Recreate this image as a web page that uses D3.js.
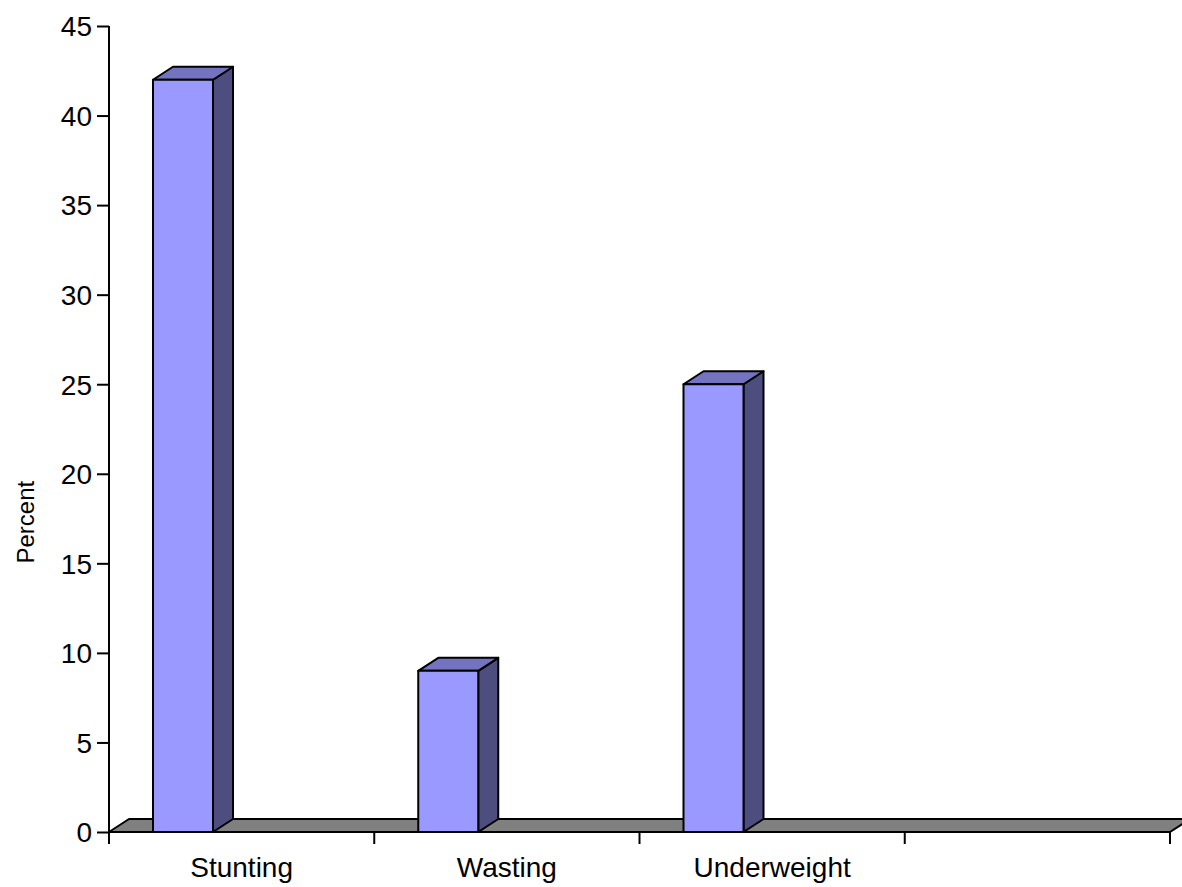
<!DOCTYPE html>
<head>
  <meta charset="utf-8">
  <script src="https://d3js.org/d3.v7.min.js"></script>
  <style>
    body { margin: 0; background: #fff; }
    svg { display: block; }
    text { font-family: "Liberation Sans", Arial, sans-serif; fill: #000; }
  </style>
</head>
<body>
  <svg width="1182" height="887"></svg>
  <script>
    var categories = ['Stunting', 'Wasting', 'Underweight', ''];
    var values = [42, 9, 25, null];
    var yTicks = [0, 5, 10, 15, 20, 25, 30, 35, 40, 45];

    var width = 1182, height = 887;
    var margin = { top: 26, right: 12, bottom: 55, left: 109 };
    var depth = { dx: 20, dy: 13 };

    var svg = d3.select('svg');

    var x = d3.scaleBand()
      .domain(categories.map(function (d, i) { return i; }))
      .range([margin.left, 1170])
      .paddingInner(0).paddingOuter(0);

    var y = d3.scaleLinear()
      .domain([0, 45])
      .range([height - margin.bottom, margin.top]);

    var y0 = y(0);

    // floor
    svg.append('path')
      .attr('d', 'M' + margin.left + ',' + y0 +
        'L' + (margin.left + depth.dx) + ',' + (y0 - depth.dy) +
        'L' + (1170 + depth.dx) + ',' + (y0 - depth.dy) +
        'L' + 1170 + ',' + y0 + 'Z')
      .attr('fill', '#808080')
      .attr('stroke', '#000')
      .attr('stroke-width', 2)
      .attr('stroke-linejoin', 'round');

    // bars
    var barW = 60, barOff = 44;
    var bars = svg.append('g');
    values.forEach(function (v, i) {
      if (v == null) return;
      var x1 = x(i) + barOff, x2 = x1 + barW, yt = y(v);
      var g = bars.append('g')
        .attr('stroke', '#000').attr('stroke-width', 2).attr('stroke-linejoin', 'round');
      // side
      g.append('path')
        .attr('d', 'M' + x2 + ',' + y0 + 'L' + (x2 + depth.dx) + ',' + (y0 - depth.dy) +
          'L' + (x2 + depth.dx) + ',' + (yt - depth.dy) + 'L' + x2 + ',' + yt + 'Z')
        .attr('fill', '#4d4d80');
      // top
      g.append('path')
        .attr('d', 'M' + x1 + ',' + yt + 'L' + (x1 + depth.dx) + ',' + (yt - depth.dy) +
          'L' + (x2 + depth.dx) + ',' + (yt - depth.dy) + 'L' + x2 + ',' + yt + 'Z')
        .attr('fill', '#7373bf');
      // front
      g.append('rect')
        .attr('x', x1).attr('y', yt)
        .attr('width', barW).attr('height', y0 - yt)
        .attr('fill', '#9999ff');
    });

    // y axis
    var yAxis = d3.axisLeft(y).tickValues(yTicks).tickSize(12).tickPadding(5);
    var gy = svg.append('g')
      .attr('transform', 'translate(' + margin.left + ',0)')
      .call(yAxis);
    gy.select('.domain').attr('d', 'M0,' + y0 + 'V' + margin.top).attr('stroke', '#000').attr('stroke-width', 2);
    gy.selectAll('.tick line').attr('stroke', '#000').attr('stroke-width', 2);
    gy.selectAll('.tick text').attr('font-size', 28).attr('dy', '0.35em')
      .style('font-family', '"Liberation Sans", Arial, sans-serif');

    // x axis
    var xAxis = d3.axisBottom(x).tickSize(0).tickFormat(function (i) { return categories[i]; });
    var gx = svg.append('g')
      .attr('transform', 'translate(0,' + y0 + ')')
      .call(xAxis);
    gx.select('.domain').attr('d', 'M' + margin.left + ',0H1170').attr('stroke', '#000').attr('stroke-width', 2);
    gx.selectAll('.tick text').attr('font-size', 28).attr('dy', 0).attr('y', 45)
      .style('font-family', '"Liberation Sans", Arial, sans-serif');
    var bounds = x.domain().map(function (i) { return x(i); }).concat([1170]);
    gx.selectAll('.bound').data(bounds).enter().append('line')
      .attr('x1', function (d) { return d; }).attr('x2', function (d) { return d; })
      .attr('y1', 0).attr('y2', 12)
      .attr('stroke', '#000').attr('stroke-width', 2);

    // y title
    svg.append('text')
      .attr('transform', 'translate(34,' + y(17.3) + ') rotate(-90)')
      .attr('text-anchor', 'middle')
      .attr('font-size', 24)
      .text('Percent');
  </script>
</body>
